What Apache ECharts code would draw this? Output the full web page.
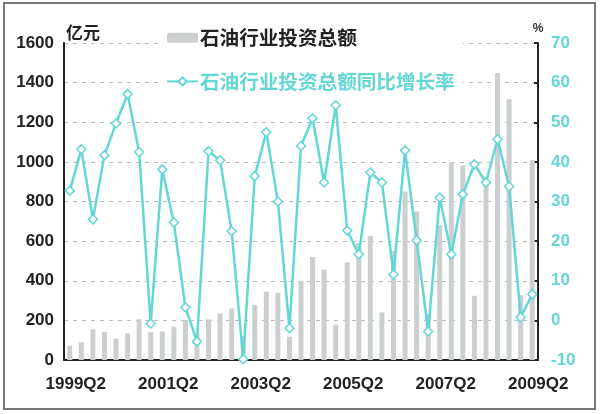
<!DOCTYPE html>
<html>
<head>
<meta charset="utf-8">
<script src="https://cdn.jsdelivr.net/npm/echarts@6/dist/echarts.min.js"></script>
<style>
  html, body { margin: 0; padding: 0; background: #fff; }
  #main { width: 600px; height: 414px; }
</style>
</head>
<body>
<div id="main"></div>
<script>
// 季度
var quarters = [
  '1999Q2', '1999Q3', '1999Q4',
  '2000Q1', '2000Q2', '2000Q3', '2000Q4',
  '2001Q1', '2001Q2', '2001Q3', '2001Q4',
  '2002Q1', '2002Q2', '2002Q3', '2002Q4',
  '2003Q1', '2003Q2', '2003Q3', '2003Q4',
  '2004Q1', '2004Q2', '2004Q3', '2004Q4',
  '2005Q1', '2005Q2', '2005Q3', '2005Q4',
  '2006Q1', '2006Q2', '2006Q3', '2006Q4',
  '2007Q1', '2007Q2', '2007Q3', '2007Q4',
  '2008Q1', '2008Q2', '2008Q3', '2008Q4',
  '2009Q1', '2009Q2'
];

// 石油行业投资总额 (亿元)
var investment = [
  72, 90, 155,
  142, 108, 134, 206,
  141, 144, 168, 202,
  133, 205, 235, 260,
  120, 278, 345, 338,
  118, 400, 520, 456,
  178, 493, 590, 625,
  240, 550, 850, 750,
  232, 680, 998, 982,
  324, 911, 1448, 1316,
  327, 1008
];

// 同比增长率 (%)
var growth = [
  32.7, 43.2, 25.5,
  41.7, 49.7, 57.1, 42.5,
  -0.8, 38.1, 24.7, 3.3,
  -5.3, 42.7, 40.4, 22.5,
  -9.8, 36.4, 47.5, 30.0,
  -2.0, 44.0, 51.0, 34.8,
  54.3, 22.7, 16.7, 37.3,
  34.8, 11.6, 42.9, 20.2,
  -2.8, 31.0, 16.7, 31.8,
  39.4, 34.8, 45.7, 33.8,
  0.8, 6.6
];

var barName = '石油行业投资总额';
var lineName = '石油行业投资总额同比增长率';

var cyan = '#62d7d4';
var numFont = "'Liberation Sans', Arial, sans-serif";
var cjkFont = "'Noto Sans CJK SC', sans-serif";

var myChart = echarts.init(document.getElementById('main'));

var option = {
  backgroundColor: '#fff',
  animation: false,
  grid: { left: 64, right: 62, top: 43, bottom: 54 },
  graphic: [{
    type: 'rect',
    shape: { x: 4, y: 3, width: 591, height: 406 },
    style: { fill: 'none', stroke: '#777', lineWidth: 2 },
    silent: true
  }],
  legend: {
    orient: 'vertical',
    left: 162,
    top: 24,
    padding: [4, 8, 4, 4],
    backgroundColor: '#fff',
    itemWidth: 31,
    itemHeight: 10,
    itemGap: 24,
    textStyle: { fontFamily: cjkFont, fontSize: 19.6, fontWeight: 'bold', padding: [0, 0, 0, -3] },
    data: [
      { name: barName, textStyle: { color: '#222' } },
      { name: lineName, textStyle: { color: cyan } }
    ]
  },
  xAxis: {
    type: 'category',
    data: quarters,
    boundaryGap: true,
    axisLine: { lineStyle: { color: '#222', width: 2 } },
    axisTick: { inside: true, length: 4, interval: 1, lineStyle: { color: '#222', width: 2 } },
    axisLabel: {
      interval: 7,
      margin: 16,
      padding: [0, 0, 0, 12],
      color: '#222',
      fontFamily: numFont,
      fontSize: 17,
      fontWeight: 'bold'
    },
    splitLine: { show: false }
  },
  yAxis: [{
    type: 'value',
    min: 0,
    max: 1600,
    interval: 200,
    name: '亿元',
    nameLocation: 'end',
    nameGap: 2,
    nameTextStyle: {
      color: '#222', fontFamily: cjkFont, fontSize: 17, fontWeight: 'bold',
      align: 'left', verticalAlign: 'bottom', padding: [0, 0, 0, 2]
    },
    axisLine: { show: true, lineStyle: { color: '#222', width: 2 } },
    axisTick: { show: false },
    axisLabel: {
      margin: 10, color: '#222', fontFamily: numFont, fontSize: 17, fontWeight: 'bold',
      formatter: function (v) { return String(v); }
    },
    splitLine: { show: true, lineStyle: { color: '#bbb', type: [4, 5], width: 1 } }
  }, {
    type: 'value',
    min: -10,
    max: 70,
    interval: 10,
    name: '%',
    nameLocation: 'end',
    nameGap: 8,
    nameTextStyle: { color: '#333', fontFamily: numFont, fontSize: 12, fontWeight: 'bold' },
    axisLine: { show: true, lineStyle: { color: '#222', width: 2 } },
    axisTick: { show: true, inside: true, length: 4, lineStyle: { color: '#222', width: 2 } },
    axisLabel: {
      margin: 13, color: cyan, fontFamily: numFont, fontSize: 17, fontWeight: 'bold',
      formatter: function (v) { return String(v); }
    },
    splitLine: { show: false }
  }],
  series: [{
    name: barName,
    type: 'bar',
    yAxisIndex: 0,
    data: investment,
    barWidth: 5,
    itemStyle: { color: '#cccfd0' }
  }, {
    name: lineName,
    type: 'line',
    yAxisIndex: 1,
    data: growth,
    symbol: 'diamond',
    symbolSize: 9,
    showAllSymbol: true,
    lineStyle: { color: cyan, width: 2.5 },
    itemStyle: { color: '#fff', borderColor: cyan, borderWidth: 1.5 },
    z: 3
  }]
};

myChart.setOption(option);
</script>
</body>
</html>
